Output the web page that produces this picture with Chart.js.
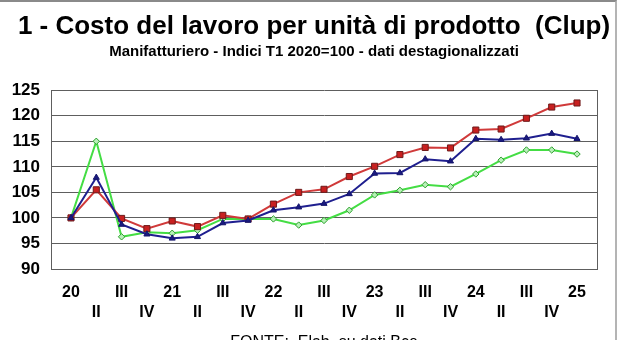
<!DOCTYPE html>
<html>
<head>
<meta charset="utf-8">
<title>Clup manifatturiero</title>
<script src="https://cdn.jsdelivr.net/npm/chart.js@4.4.1/dist/chart.umd.min.js"></script>
<style>
  html, body { margin: 0; padding: 0; background: #fff; }
  #wrap { position: relative; width: 620px; height: 340px; overflow: hidden; background: #fff; }
  #frame {
    position: absolute; left: 0; top: 0; width: 615px; height: 360px;
    border-top: 2px solid #8a8a8a; border-right: 2px solid #b4b4b4;
    pointer-events: none;
  }
</style>
</head>
<body>
<div id="wrap">
  <canvas id="clupChart" width="620" height="340"></canvas>
  <div id="frame"></div>
</div>
<script>
// Trimestri da T1 2020 a T1 2025
const trimestri = ['20', 'II', 'III', 'IV', '21', 'II', 'III', 'IV', '22', 'II', 'III', 'IV',
                   '23', 'II', 'III', 'IV', '24', 'II', 'III', 'IV', '25'];

// Indici T1 2020 = 100
const serieRossa = [100, 105.5, 99.9, 97.9, 99.4, 98.3, 100.5, 99.8, 102.7, 105.0, 105.6,
                    108.1, 110.1, 112.4, 113.8, 113.7, 117.2, 117.4, 119.5, 121.7, 122.5];
const serieBlu   = [100, 107.9, 98.7, 96.8, 96.0, 96.3, 99.0, 99.5, 101.5, 102.1, 102.8,
                    104.7, 108.7, 108.8, 111.5, 111.1, 115.5, 115.3, 115.6, 116.5, 115.5];
const serieVerde = [100, 115.0, 96.3, 97.2, 97.0, 97.6, 99.8, 99.8, 99.8, 98.6, 99.5,
                    101.5, 104.5, 105.4, 106.5, 106.1, 108.6, 111.3, 113.3, 113.3, 112.5];

const yTicks = [90, 95, 100, 105, 110, 115, 120, 125];

const FONT = "'Liberation Sans', Arial, Helvetica, sans-serif";
const GRID = '#5e5e5e';

const toPoints = arr => arr.map((v, i) => ({ x: i, y: v }));

// Fonte sotto il grafico
const fontePlugin = {
    id: 'fonte',
    afterDraw(chart) {
        const { ctx, chartArea } = chart;
        ctx.save();
        ctx.font = '16px ' + FONT;
        ctx.fillStyle = '#000';
        ctx.textAlign = 'center';
        ctx.textBaseline = 'alphabetic';
        ctx.fillText('FONTE:  Elab. su dati Bce', (chartArea.left + chartArea.right) / 2, 347);
        ctx.restore();
    }
};

const ctx = document.getElementById('clupChart').getContext('2d');
new Chart(ctx, {
    type: 'line',
    data: {
        datasets: [
            {
                label: 'Serie blu',
                data: toPoints(serieBlu),
                borderColor: '#1f1f8f',
                borderWidth: 2,
                pointStyle: 'triangle',
                pointRadius: 3.5,
                pointBackgroundColor: '#1a1a80',
                pointBorderColor: '#14146a',
                pointBorderWidth: 1,
                tension: 0
            },
            {
                label: 'Serie rossa',
                data: toPoints(serieRossa),
                borderColor: '#d03a3a',
                borderWidth: 2,
                pointStyle: 'rect',
                pointRadius: 4.3,
                pointBackgroundColor: '#c82020',
                pointBorderColor: '#6e1a1a',
                pointBorderWidth: 1,
                tension: 0
            },
            {
                label: 'Serie verde',
                data: toPoints(serieVerde),
                borderColor: '#44dd44',
                borderWidth: 2,
                pointStyle: 'rectRot',
                pointRadius: 3.2,
                pointBackgroundColor: '#b8f0b8',
                pointBorderColor: '#2aa02a',
                pointBorderWidth: 1,
                tension: 0
            }
        ]
    },
    options: {
        responsive: false,
        animation: false,
        layout: { padding: { left: 8, right: 0, top: 0, bottom: 0 } },
        plugins: {
            legend: { display: false },
            tooltip: { enabled: false },
            title: {
                display: true,
                text: '1 - Costo del lavoro per unità di prodotto  (Clup)',
                color: '#000',
                font: { family: FONT, size: 26, weight: 'bold' },
                padding: { top: 11, bottom: 1 }
            },
            subtitle: {
                display: true,
                text: 'Manifatturiero - Indici T1 2020=100 - dati destagionalizzati',
                color: '#000',
                font: { family: FONT, size: 15, weight: 'bold' },
                padding: { top: 0, bottom: 29 }
            }
        },
        scales: {
            x: {
                type: 'linear',
                min: -0.79,
                max: 20.79,
                afterBuildTicks: axis => {
                    axis.ticks = trimestri.map((_, i) => ({ value: i }));
                },
                afterFit: scale => { scale.height = 71; },
                grid: { display: false },
                border: { display: true, color: GRID, width: 1 },
                ticks: {
                    autoSkip: false,
                    maxRotation: 0,
                    padding: 6,
                    color: '#000',
                    font: { family: FONT, size: 16, weight: 'bold', lineHeight: 1.25 },
                    callback: value => {
                        const lab = trimestri[value];
                        return value % 2 ? ['', lab] : lab;
                    }
                }
            },
            y: {
                min: 90,
                max: 125,
                afterBuildTicks: axis => {
                    axis.ticks = yTicks.map(v => ({ value: v }));
                },
                afterFit: scale => { scale.width = 43; },
                grid: { color: GRID, lineWidth: 1, drawTicks: false },
                border: { display: true, color: GRID, width: 1 },
                ticks: {
                    padding: 11,
                    color: '#000',
                    font: { family: FONT, size: 17, weight: 'bold' }
                }
            },
            y2: {
                position: 'right',
                min: 90,
                max: 125,
                afterFit: scale => { scale.width = 23; },
                grid: { display: false },
                border: { display: true, color: GRID, width: 1 },
                ticks: { display: false }
            }
        }
    },
    plugins: [fontePlugin]
});
</script>
</body>
</html>
